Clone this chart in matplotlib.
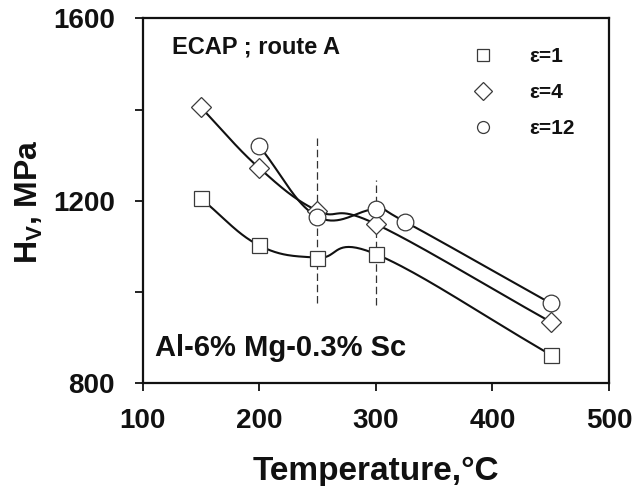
import numpy as np
import matplotlib
matplotlib.use("Agg")
import matplotlib.pyplot as plt
from matplotlib.lines import Line2D

plt.rcParams['font.family'] = ['Liberation Sans', 'DejaVu Sans']
plt.rcParams['font.weight'] = 'bold'
plt.rcParams['mathtext.fontset'] = 'custom'
plt.rcParams['mathtext.rm'] = 'Liberation Sans:bold'
plt.rcParams['mathtext.it'] = 'Liberation Sans:bold'
plt.rcParams['mathtext.bf'] = 'Liberation Sans:bold'

# ---- data ----
temps_e1 = [150, 200, 250, 300, 450]
hv_e1 = [1205, 1102, 1075, 1083, 862]
temps_e4 = [150, 200, 250, 300, 450]
hv_e4 = [1405, 1272, 1178, 1149, 934]
temps_e12 = [200, 250, 300, 325, 450]
hv_e12 = [1320, 1165, 1181, 1154, 975]
labels = ['ε=1', 'ε=4', 'ε=12']

dash_x = [250, 300]
dash_ymin = [975, 972]
dash_ymax = [1345, 1245]

xticks = [100, 200, 300, 400, 500]
yticks = [800, 1000, 1200, 1400, 1600]
ytick_labels = ['800', '', '1200', '', '1600']


def catmull_rom(x, y, n=40, tension=1.0):
    p = np.column_stack([x, y]).astype(float)
    ext = np.vstack([p[0] - (p[1] - p[0]), p, p[-1] + (p[-1] - p[-2])])
    out = []
    for i in range(1, len(ext) - 2):
        p0, p1, p2, p3 = ext[i - 1], ext[i], ext[i + 1], ext[i + 2]
        t1 = tension * (p2 - p0) / 2.0
        t2 = tension * (p3 - p1) / 2.0
        b1 = p1 + t1 / 3.0
        b2 = p2 - t2 / 3.0
        t = np.linspace(0, 1, n)[:, None]
        seg = ((1 - t) ** 3) * p1 + 3 * ((1 - t) ** 2) * t * b1 + 3 * (1 - t) * t ** 2 * b2 + t ** 3 * p2
        out.append(seg if i == 1 else seg[1:])
    c = np.vstack(out)
    return c[:, 0], c[:, 1]


fig = plt.figure(figsize=(6.42, 4.86), dpi=100)
fig.patch.set_facecolor('white')
ax = fig.add_axes([142.5 / 642, 1 - 383 / 486, (609 - 142.5) / 642, (383 - 18.5) / 486])

line_kw = dict(color='#111111', lw=1.5, zorder=2)
mk_kw = dict(linestyle='none', markerfacecolor='white', markeredgecolor='#3a3a3a',
             markeredgewidth=0.9)

series = [
    (temps_e1, hv_e1, 's', 10.8),
    (temps_e4, hv_e4, 'D', 10.0),
    (temps_e12, hv_e12, 'o', 12.0),
]
for tx, hv, m, ms in series:
    sx, sy = catmull_rom(tx, hv, tension=1.15)
    ax.plot(sx, sy, **line_kw)
for tx, hv, m, ms in series:
    ax.plot(tx, hv, marker=m, markersize=ms, zorder=3, **mk_kw)

for xv, y0, y1 in zip(dash_x, dash_ymin, dash_ymax):
    ax.plot([xv, xv], [y0, y1], color='#333333', lw=0.9, ls=(0, (6, 3)), zorder=1)

ax.set_xlim(100, 500)
ax.set_ylim(800, 1600)
ax.set_xticks(xticks)
ax.set_yticks(yticks)
ax.set_yticklabels(ytick_labels)
ax.tick_params(axis='both', direction='out', length=6, width=1.3, labelsize=20, colors='#111111')
ax.tick_params(axis='x', pad=12)
ax.tick_params(axis='y', pad=14)
for sp in ax.spines.values():
    sp.set_linewidth(1.6)
    sp.set_color('#111111')

fig.text(29 / 642, 1 - 201.7 / 486, 'H$_{\\mathrm{V}}$, MPa', rotation=90, ha='center', va='center',
         fontsize=23, fontweight='bold', color='#111111')
fig.text(375.8 / 642, 1 - 471 / 486, 'Temperature,°C', ha='center', va='center',
         fontsize=24, fontweight='bold', color='#111111')

ax.text(0.0626, 0.923, 'ECAP ; route A', transform=ax.transAxes, ha='left', va='center',
        fontsize=17, fontweight='bold', color='#111111')
ax.text(0.0268, 0.096, 'Al-6% Mg-0.3% Sc', transform=ax.transAxes, ha='left', va='center',
        fontsize=21, fontweight='bold', color='#111111')

handles = [
    Line2D([], [], marker='s', markersize=8.6, **mk_kw),
    Line2D([], [], marker='D', markersize=9.5, **mk_kw),
    Line2D([], [], marker='o', markersize=8.6, **mk_kw),
]
leg = ax.legend(handles, labels, loc='upper left', bbox_to_anchor=(474 / 642, 1 - 47 / 486),
                bbox_transform=fig.transFigure, frameon=False, fontsize=15,
                handlelength=0.9, handletextpad=1.75, labelspacing=0.82, borderpad=0,
                borderaxespad=0)
for t in leg.get_texts():
    t.set_fontweight('bold')
    t.set_color('#111111')

fig.savefig('out.png', dpi=100, facecolor='white')
